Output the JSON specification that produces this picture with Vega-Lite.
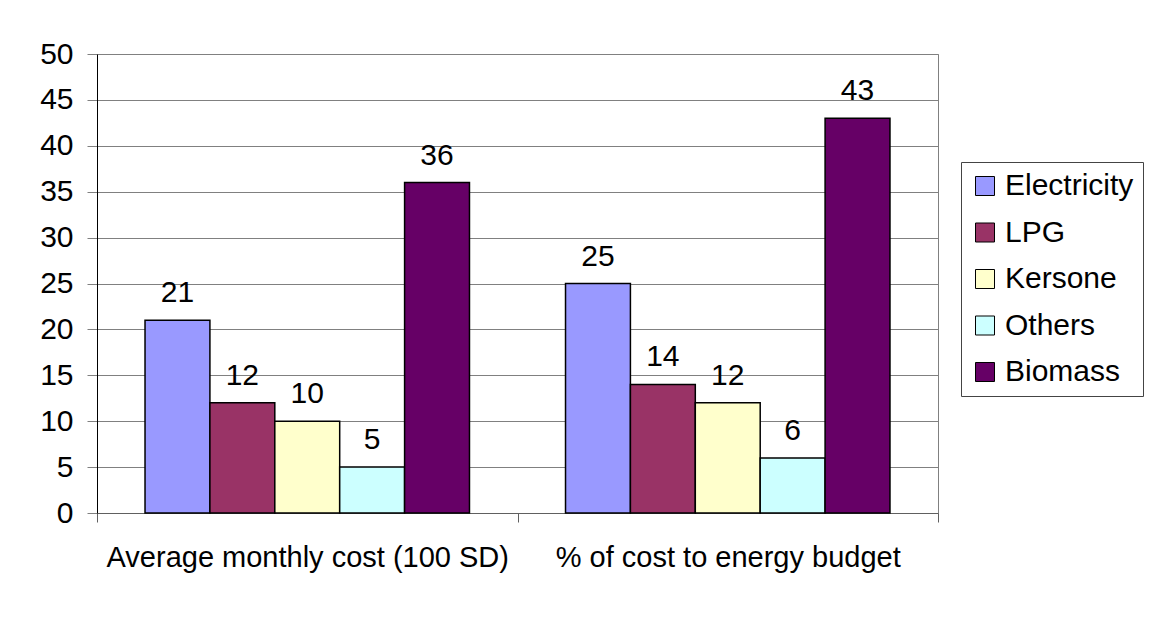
{
  "$schema": "https://vega.github.io/schema/vega-lite/v6.json",
  "width": 841,
  "height": 459,
  "autosize": {"type": "none"},
  "padding": {"left": 97, "top": 54, "right": 212, "bottom": 121},
  "background": "white",
  "data": {
    "values": [
      {"measure": "Average monthly cost (100 SD)", "fuel": "Electricity", "value": 21},
      {"measure": "Average monthly cost (100 SD)", "fuel": "LPG", "value": 12},
      {"measure": "Average monthly cost (100 SD)", "fuel": "Kersone", "value": 10},
      {"measure": "Average monthly cost (100 SD)", "fuel": "Others", "value": 5},
      {"measure": "Average monthly cost (100 SD)", "fuel": "Biomass", "value": 36},
      {"measure": "% of cost to energy budget", "fuel": "Electricity", "value": 25},
      {"measure": "% of cost to energy budget", "fuel": "LPG", "value": 14},
      {"measure": "% of cost to energy budget", "fuel": "Kersone", "value": 12},
      {"measure": "% of cost to energy budget", "fuel": "Others", "value": 6},
      {"measure": "% of cost to energy budget", "fuel": "Biomass", "value": 43}
    ]
  },
  "encoding": {
    "x": {
      "field": "measure",
      "type": "nominal",
      "sort": ["Average monthly cost (100 SD)", "% of cost to energy budget"],
      "scale": {"paddingInner": 0, "paddingOuter": 0},
      "axis": {
        "title": null,
        "labelAngle": 0,
        "labelLimit": 0,
        "tickBand": "extent",
        "tickSize": 9,
        "tickColor": "#606060",
        "domainColor": "#606060",
        "labelPadding": 21,
        "labelFontSize": 29,
        "labelFont": "Liberation Sans",
        "labelColor": "black",
        "grid": false
      }
    },
    "xOffset": {
      "field": "fuel",
      "type": "nominal",
      "sort": ["Electricity", "LPG", "Kersone", "Others", "Biomass"],
      "scale": {"paddingInner": 0, "paddingOuter": 0.74}
    },
    "y": {
      "field": "value",
      "type": "quantitative",
      "scale": {"domain": [0, 50], "nice": false},
      "axis": {
        "title": null,
        "values": [0, 5, 10, 15, 20, 25, 30, 35, 40, 45, 50],
        "grid": true,
        "gridColor": "#808080",
        "gridOpacity": 1,
        "domainColor": "black",
        "tickColor": "#808080",
        "tickSize": 10,
        "labelPadding": 14,
        "labelFontSize": 30,
        "labelFont": "Liberation Sans",
        "labelColor": "black"
      }
    }
  },
  "layer": [
    {
      "mark": {"type": "bar", "stroke": "black", "strokeWidth": 1.5},
      "encoding": {
        "color": {
          "field": "fuel",
          "type": "nominal",
          "sort": ["Electricity", "LPG", "Kersone", "Others", "Biomass"],
          "scale": {
            "domain": ["Electricity", "LPG", "Kersone", "Others", "Biomass"],
            "range": ["#9999FF", "#993366", "#FFFFCC", "#CCFFFF", "#660066"]
          },
          "legend": {
            "title": null,
            "orient": "none",
            "legendX": 864,
            "legendY": 108,
            "symbolType": "square",
            "symbolSize": 361,
            "symbolStrokeColor": "black",
            "symbolStrokeWidth": 1,
            "symbolOpacity": 1,
            "labelFontSize": 30,
            "labelFont": "Liberation Sans",
            "labelColor": "black",
            "labelLimit": 0,
            "labelOffset": 5,
            "rowPadding": 16.5,
            "padding": 9,
            "strokeColor": "#444444",
            "fillColor": "white"
          }
        }
      }
    },
    {
      "mark": {"type": "text", "fontSize": 30, "font": "Liberation Sans", "dy": -18, "baseline": "alphabetic", "color": "black"},
      "encoding": {"text": {"field": "value", "type": "quantitative"}}
    }
  ],
  "config": {"view": {"stroke": "#808080"}}
}
